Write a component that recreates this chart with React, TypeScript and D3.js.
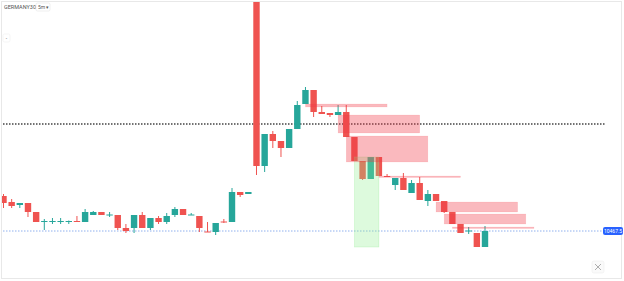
import React from "react";
import * as d3 from "d3";

const W = 624;
const H = 281;

// OHLC per 5m bar
const opens = [10485,10482,10480.5,10481.5,10477,10472.25,10472.25,10472.25,10472.25,10472.5,10472,10475.5,10477,10475.5,10475.5,10469,10469,10475.5,10469,10474,10472,10475.5,10478.5,10475.5,10475,10467.25,10467,10472.25,10472,10487,10486,10585.5,10500,10516,10512.5,10509,10518.5,10531,10538,10527,10526.5,10525.5,10527,10514.5,10502.5,10493.5,10504.5,10495,10490.5,10494,10486.5,10491.5,10482.5,10486,10482.5,10477,10471,10467.5,10466.5,10459.5];
const highs = [10486,10483.5,10481.5,10481.5,10477,10473.5,10474,10474,10472.75,10475,10478.5,10477.5,10477,10477,10475.5,10471,10475.5,10477,10474,10475,10476.5,10479.5,10478.5,10476.5,10475,10472,10471.5,10473.5,10489,10487,10487,10585.5,10516,10517.5,10512.5,10518.5,10532.5,10539.5,10538,10530,10526.5,10530.5,10530.5,10514.5,10502.5,10504.5,10504.5,10496,10494,10496.5,10493,10494.5,10488,10486,10482.5,10477,10471,10469.5,10466.5,10470];
const lows = [10479,10479,10479,10474.5,10472,10468,10471,10471,10471,10472,10472,10475.5,10475.5,10474.5,10468,10466.5,10466.5,10469,10468,10471,10471,10474.5,10475.5,10475.5,10467,10467,10465.5,10471.5,10472,10484.5,10486,10495.5,10497,10509,10504.5,10509,10518.5,10531,10524.5,10526,10524.5,10525.5,10514.5,10502.5,10493,10493.5,10495,10494.5,10488,10488,10486.5,10483,10480,10482.5,10476.5,10471,10466.5,10466,10459.5,10459.5];
const closes = [10481.5,10480,10481.5,10477,10472,10472.5,10472.5,10472.5,10472.5,10472,10477,10477,10475.5,10475.75,10469,10467.5,10475.5,10469,10474,10472,10475,10478.5,10475.5,10475.75,10469,10467,10471.5,10472,10487,10485.5,10487,10500,10516,10512.5,10509,10518.5,10530.5,10538,10527,10526,10525.5,10527,10514.5,10502.5,10493.5,10504.5,10495,10494.5,10494,10488,10491.5,10483,10486,10482.5,10477,10471,10466.5,10467.75,10459.5,10467.5];

// Supply zones: [startBar, endBar, top, bottom]
const zoneStart = [37, 41, 42, 46, 53, 54, 55];
const zoneEnd = [47, 51, 52, 56, 63, 64, 65];
const zoneTop = [10531, 10525.5, 10515, 10495, 10482, 10476, 10469.5];
const zoneBottom = [10529.5, 10516.5, 10502, 10494.25, 10477, 10471, 10468.75];

// Demand zone
const greenZone = [43, 46, 10504.5, 10459.5];

const levelLine = 10521;
const lastPrice = 10467.5;
const lastPriceLabel = "10467.5";
const symbol = "GERMANY30";
const interval = "5m";

const UP = "#26a69a";
const DOWN = "#ef5350";

export default function App() {
  const x = d3.scaleLinear().domain([0, 59]).range([3.5, 485]);
  const y = d3.scaleLinear().domain([10443.5, 10583]).range([279, 0]);
  const bw = 6.4;

  return (
    <div style={{ position: "fixed", left: 0, top: 0, width: W, height: H, background: "#fff" }}>
      <svg width={W} height={H} style={{ display: "block", fontFamily: "Roboto, 'Noto Sans', sans-serif" }}>
        <defs>
          <clipPath id="plot">
            <rect x={2} y={2} width={619} height={276} />
          </clipPath>
        </defs>
        <rect x={1.5} y={1.5} width={620} height={277} fill="#fff" stroke="#e8e8e8" />
        <g clipPath="url(#plot)">
          <line x1={0} x2={603} y1={y(lastPrice)} y2={y(lastPrice)} stroke="#8fb0ee" strokeWidth={1} strokeDasharray="1.5 1.5" />
          <line x1={3} x2={605} y1={y(levelLine)} y2={y(levelLine)} stroke="#444" strokeWidth={1.5} strokeDasharray="1.5 1.5" />
          {opens.map((o, i) => {
            const c = closes[i];
            const up = c >= o;
            const col = up ? UP : DOWN;
            const cx = x(i);
            const top = y(Math.max(o, c));
            const bot = y(Math.min(o, c));
            return (
              <g key={i}>
                <line x1={cx} x2={cx} y1={y(highs[i])} y2={y(lows[i])} stroke={col} strokeWidth={1} />
                <rect x={cx - bw / 2} y={top} width={bw} height={Math.max(1, bot - top)} fill={col} />
              </g>
            );
          })}
          <rect
            x={x(greenZone[0])}
            y={y(greenZone[2])}
            width={x(greenZone[1]) - x(greenZone[0])}
            height={y(greenZone[3]) - y(greenZone[2])}
            fill="#90ee90"
            fillOpacity={0.3}
            stroke="#90ee90"
            strokeOpacity={0.5}
            strokeWidth={0.5}
          />
          {zoneStart.map((s, i) => (
            <rect
              key={"z" + i}
              x={x(s)}
              y={y(zoneTop[i])}
              width={x(zoneEnd[i]) - x(s)}
              height={Math.max(1.5, y(zoneBottom[i]) - y(zoneTop[i]))}
              fill="#f23645"
              fillOpacity={0.35}
              stroke="#f23645"
              strokeOpacity={0.15}
              strokeWidth={0.5}
            />
          ))}
        </g>
        {/* last price label */}
        <rect x={603} y={y(lastPrice) - 4} width={20} height={8} rx={2} fill="#2962ff" />
        <text x={613} y={y(lastPrice) + 2} fontSize={5} fill="#fff" textAnchor="middle">{lastPriceLabel}</text>
        {/* header */}
        <text x={4} y={9} fontSize={5.5} fill="#555">{symbol}</text>
        <rect x={36} y={3} width={14} height={8} rx={1.5} fill="#fff" stroke="#e4e4e4" strokeWidth={0.6} />
        <text x={38} y={9} fontSize={5} fill="#555">{interval + " ▾"}</text>
        <rect x={3} y={34} width={7} height={8} rx={1.5} fill="#fff" stroke="#eee" strokeWidth={0.6} />
        <text x={6.5} y={40} fontSize={5} fill="#555" textAnchor="middle">-</text>
        {/* bottom-right icon */}
        <rect x={592} y={261} width={12} height={12} rx={2} fill="#fafafa" stroke="#eee" strokeWidth={0.6} />
        <path d="M595,264 L601,270 M601,264 L595,270" stroke="#999" strokeWidth={0.8} />
      </svg>
    </div>
  );
}
